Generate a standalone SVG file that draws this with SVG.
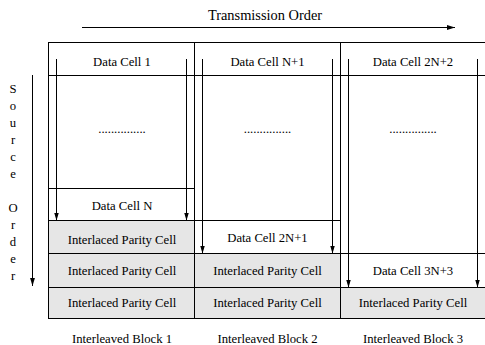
<svg xmlns="http://www.w3.org/2000/svg" width="485" height="345" viewBox="0 0 485 345">
<style>
text{font-family:'Liberation Serif','Tinos','DejaVu Serif',serif;font-size:12.7px;fill:#000;text-anchor:middle}
.t{font-size:14.4px}
.ln{stroke:#000;stroke-width:1;fill:none}
.ar{stroke:#000;stroke-width:1;fill:none;marker-end:url(#ah)}
.sh{fill:#e6e6e6;stroke:none}
</style>
<defs>
<marker id="ah" markerUnits="userSpaceOnUse" viewBox="0 0 8 6" refX="8" refY="3" markerWidth="8" markerHeight="6" orient="auto">
<path d="M0,0.6 L8,3 L0,5.4 z" fill="#000"/>
</marker>
</defs>
<rect width="485" height="345" fill="#fff"/>
<g id="labels">
<text class="t" x="265" y="19.5">Transmission Order</text>
<text x="13" y="93">S</text>
<text x="13" y="110">o</text>
<text x="13" y="127">u</text>
<text x="13" y="144">r</text>
<text x="13" y="161">c</text>
<text x="13" y="178">e</text>
<text x="13" y="212">O</text>
<text x="13" y="229">r</text>
<text x="13" y="246">d</text>
<text x="13" y="263">e</text>
<text x="13" y="280">r</text>
</g>
<g id="block1">
<rect class="sh" x="48.5" y="220.5" width="146" height="98"/>
<text x="122" y="66">Data Cell 1</text>
<text x="122" y="133">...............</text>
<text x="122" y="210">Data Cell N</text>
<text x="122" y="243.5">Interlaced Parity Cell</text>
<text x="122" y="275">Interlaced Parity Cell</text>
<text x="122" y="307">Interlaced Parity Cell</text>
<text x="122" y="343">Interleaved Block 1</text>
</g>
<g id="block2">
<rect class="sh" x="194.5" y="253.5" width="146" height="65"/>
<text x="267.5" y="66">Data Cell N+1</text>
<text x="267.5" y="133">...............</text>
<text x="267.5" y="242">Data Cell 2N+1</text>
<text x="267.5" y="275">Interlaced Parity Cell</text>
<text x="267.5" y="307">Interlaced Parity Cell</text>
<text x="267.5" y="343">Interleaved Block 2</text>
</g>
<g id="block3">
<rect class="sh" x="340.5" y="287.5" width="145" height="31"/>
<text x="413" y="66">Data Cell 2N+2</text>
<text x="413" y="133">...............</text>
<text x="413" y="275">Data Cell 3N+3</text>
<text x="413" y="307">Interlaced Parity Cell</text>
<text x="413" y="343">Interleaved Block 3</text>
</g>
<g id="grid">
<rect class="ln" x="48.5" y="42.5" width="437" height="276"/>
<line class="ln" x1="194.5" y1="42.5" x2="194.5" y2="318.5"/>
<line class="ln" x1="340.5" y1="42.5" x2="340.5" y2="318.5"/>
<line class="ln" x1="48.5" y1="75.5" x2="485" y2="75.5"/>
<line class="ln" x1="48.5" y1="188.5" x2="194.5" y2="188.5"/>
<line class="ln" x1="48.5" y1="220.5" x2="340.5" y2="220.5"/>
<line class="ln" x1="48.5" y1="253.5" x2="485" y2="253.5"/>
<line class="ln" x1="48.5" y1="287.5" x2="485" y2="287.5"/>
</g>
<g id="connectors">
<line class="ar" x1="82" y1="27.5" x2="455" y2="27.5"/>
<line class="ar" x1="32.5" y1="75" x2="32.5" y2="286"/>
<line class="ar" x1="56.5" y1="59" x2="56.5" y2="220.5"/>
<line class="ar" x1="186.5" y1="59" x2="186.5" y2="220.5"/>
<line class="ar" x1="202.5" y1="59" x2="202.5" y2="253.5"/>
<line class="ar" x1="332.5" y1="59" x2="332.5" y2="253.5"/>
<line class="ar" x1="348.5" y1="59" x2="348.5" y2="287.5"/>
<line class="ar" x1="477.5" y1="59" x2="477.5" y2="287.5"/>
</g>
</svg>
